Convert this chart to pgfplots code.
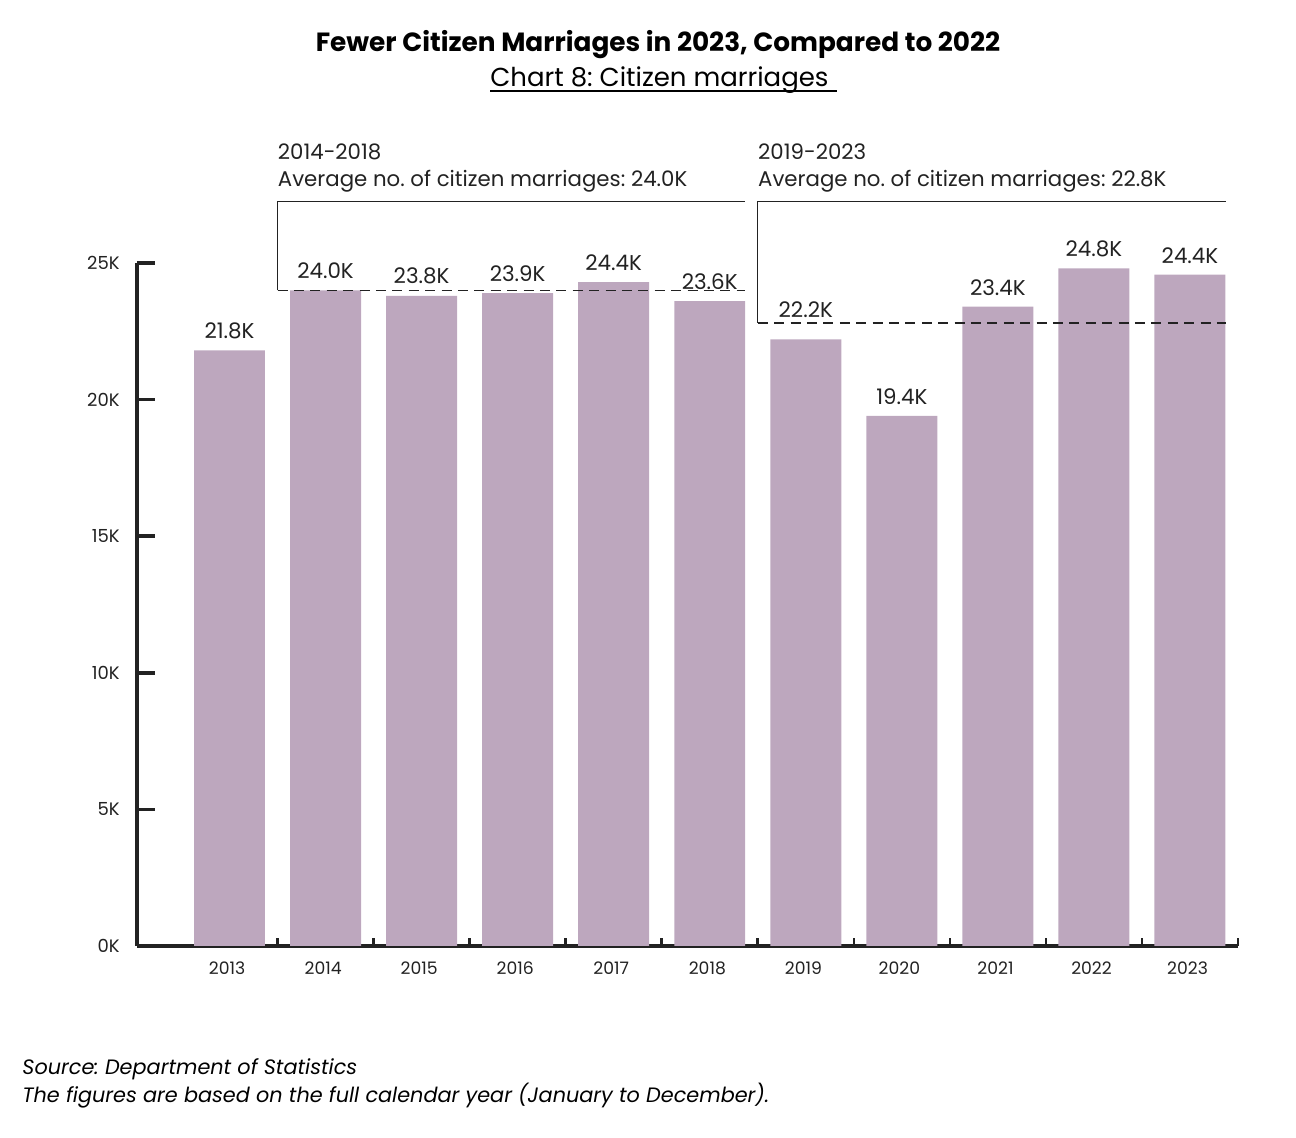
\documentclass[border=0pt]{standalone}
\usepackage{fontspec}
\setmainfont{Poppins}
\usepackage{pgfplots}
\pgfplotsset{compat=1.18}
\usepackage{pgfplotstable}
\definecolor{barc}{RGB}{189,167,190}
\definecolor{axc}{RGB}{34,34,34}
\frenchspacing
\pgfplotstableread{
x y label
0 21800 21.8K
1 24000 24.0K
2 23800 23.8K
3 23900 23.9K
4 24300 24.4K
5 23600 23.6K
6 22200 {}
7 19400 19.4K
8 23400 23.4K
9 24800 24.8K
10 24570 24.4K
}\datatable
\begin{document}
\begin{tikzpicture}
\useasboundingbox (-68.5pt,-96pt) rectangle (579.5pt,473pt);
\begin{axis}[
  at={(0pt,0pt)}, anchor=south west,
  scale only axis, width=550.5pt, height=341.5pt,
  xmin=-0.963, xmax=10.5, ymin=0, ymax=25000,
  axis lines=left, axis line style={-, line width=1.75pt, axc},
  clip=false,
  tick align=inside,
  scaled y ticks=false,
  ytick={0,5000,10000,15000,20000,25000},
  yticklabels={0K,5K,10K,15K,20K,25K},
  xtick={0.5,1.5,...,10.5}, xticklabels={},
  extra x ticks={0,1,2,3,4,5,6,7,8,9,10},
  extra x tick labels={2013,2014,2015,2016,2017,2018,2019,2020,2021,2022,2023},
  extra x tick style={major tick length=0pt, tick style={draw=none}},
  xtick style={/pgfplots/major tick length=4pt, line width=1.3pt, axc},
  ytick style={/pgfplots/major tick length=9pt, line width=1.8pt, axc},
  x tick label style={font=\fontsize{8.6}{10}\selectfont, text=axc, inner sep=0pt, yshift=-7.8pt, xshift=-1.2pt},
  y tick label style={font=\fontsize{9}{10}\selectfont, text=axc, inner sep=0pt, xshift=-8.5pt},
]
\addplot[ybar, bar width=0.739, bar shift=0pt, fill=barc, draw=none,
  point meta=explicit symbolic,
  nodes near coords,
  nodes near coords style={font=\fontsize{10.7}{13}\selectfont, text=axc, anchor=south, inner sep=0pt, yshift=5.5pt}]
  table[x=x, y=y, meta=label] {\datatable};
\addplot[axc, line width=0.6pt, dash pattern=on 5pt off 3.2pt] coordinates {(0.5,24000) (5.37,24000)};
\addplot[axc, line width=0.6pt, dash pattern=on 5pt off 3.2pt] coordinates {(5.5,22800) (10.37,22800)};
\addplot[axc, line width=0.6pt] coordinates {(0.5,24000) (0.5,27240) (5.37,27240)};
\addplot[axc, line width=0.6pt] coordinates {(5.5,22800) (5.5,27240) (10.37,27240)};
\node[anchor=south, inner sep=0pt, yshift=10.5pt, font=\fontsize{10.7}{13}\selectfont, text=axc] at (axis cs:6,22200) {22.2K};
\node[anchor=base west, inner sep=0pt, font=\fontsize{10.65}{13}\selectfont, text=axc] at (axis cs:0.5,28780) {2014-2018};
\node[anchor=base west, inner sep=0pt, font=\fontsize{10.65}{13}\selectfont, text=axc] at (axis cs:0.5,27790) {Average no. of citizen marriages: 24.0K};
\node[anchor=base west, inner sep=0pt, font=\fontsize{10.65}{13}\selectfont, text=axc] at (axis cs:5.5,28780) {2019-2023};
\node[anchor=base west, inner sep=0pt, font=\fontsize{10.65}{13}\selectfont, text=axc] at (axis cs:5.5,27790) {Average no. of citizen marriages: 22.8K};
\end{axis}
\node[anchor=base, inner sep=0pt, font=\bfseries\fontsize{13.17}{16}\selectfont] at (260.5pt,447pt) {Fewer Citizen Marriages in 2023, Compared to 2022};
\node[anchor=base west, inner sep=0pt, font=\fontsize{13}{16}\selectfont] (sub) at (176.5pt,429.5pt) {Chart 8: Citizen marriages\kern4pt};
\draw[line width=0.6pt] ([yshift=-2pt]sub.base west) -- ([yshift=-2pt]sub.base east);
\node[anchor=base west, inner sep=0pt, font=\itshape\fontsize{10.4}{12}\selectfont] at (-57.5pt,-64.5pt) {Source: Department of Statistics};
\node[anchor=base west, inner sep=0pt, font=\itshape\fontsize{10.4}{12}\selectfont] at (-57.5pt,-78.5pt) {The figures are based on the full calendar year (January to December).};
\end{tikzpicture}
\end{document}
